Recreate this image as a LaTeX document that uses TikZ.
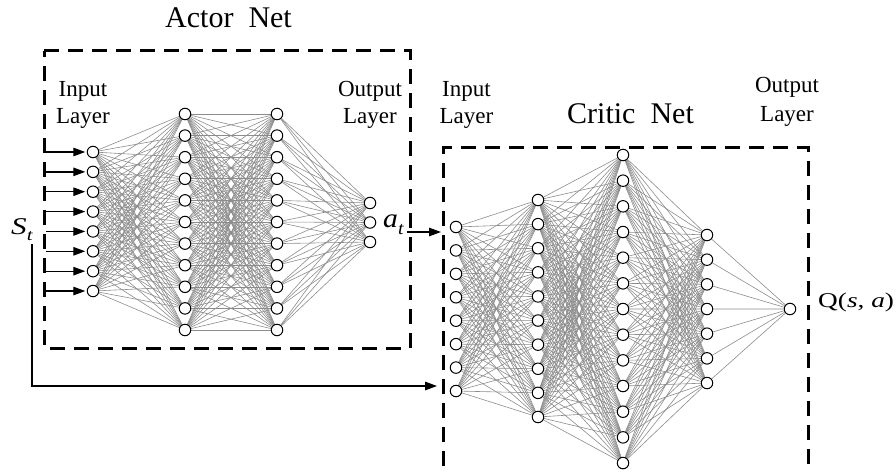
\documentclass[tikz,border=0pt]{standalone}
\usepackage{fontspec}
\usepackage{graphicx}
\setmainfont{Liberation Serif}
\usetikzlibrary{arrows.meta}
\pgfdeclarelayer{bg}
\pgfsetlayers{bg,main}

% one column of neurons: prefix, x, count, top y, spacing
\newcommand{\nnlayer}[5]{%
  \foreach \j in {1,...,#3} \node[neuron] (#1-\j) at (#2,{#4+(\j-1)*#5}) {};}
% full connection between two columns, drawn behind the neurons
\newcommand{\nnlink}[4]{%
  \begin{pgfonlayer}{bg}
    \foreach \j in {1,...,#2} \foreach \k in {1,...,#4} \draw[edge] (#1-\j) -- (#3-\k);
  \end{pgfonlayer}}
% italic symbol with a lowered italic index
\newcommand{\symidx}[3]{\textit{#1}\raisebox{-0.28em}{\fontsize{#3}{#3}\selectfont\textit{#2}}}

\begin{document}
\begin{tikzpicture}[x=1pt,y=-1pt,
  neuron/.style={circle,draw=black,fill=white,line width=1pt,minimum size=11.5pt,inner sep=0pt},
  edge/.style={draw=black!45,line width=0.6pt},
  frame/.style={line width=3pt,dash pattern=on 15pt off 9pt},
  flow/.style={line width=1.3pt,-{Triangle[length=12pt,width=8.5pt]}},
  lbl/.style={inner sep=0pt,anchor=base},
  small/.style={lbl,font=\fontsize{23}{27}\selectfont},
  title/.style={lbl,font=\fontsize{30}{34}\selectfont},
  sym/.style={inner sep=0pt,anchor=base west}]
\useasboundingbox (0,0) rectangle (896,473);
\clip (0,0) rectangle (896,473);

% ---- actor network ----
\nnlayer{a0}{93}{8}{152}{19.86}
\nnlayer{a1}{185}{11}{114}{21.6}
\nnlayer{a2}{277}{11}{114}{21.6}
\nnlayer{a3}{370}{3}{203}{19.5}
\nnlink{a0}{8}{a1}{11}
\nnlink{a1}{11}{a2}{11}
\nnlink{a2}{11}{a3}{3}

% ---- critic network ----
\nnlayer{c0}{456}{8}{227}{23.43}
\nnlayer{c1}{538}{10}{200}{24.11}
\nnlayer{c2}{623}{13}{155}{25.67}
\nnlayer{c3}{707}{7}{235}{24.67}
\nnlayer{c4}{790}{1}{309}{0}
\nnlink{c0}{8}{c1}{10}
\nnlink{c1}{10}{c2}{13}
\nnlink{c2}{13}{c3}{7}
\nnlink{c3}{7}{c4}{1}

% ---- dashed frames ----
\draw[frame] (44,51) -- (410,51) -- (410,348) -- (44,348) -- cycle;
\draw[frame] (443,490) -- (443,148) -- (808,148) -- (808,490);

% ---- titles and layer captions ----
\node[title] (actor) at (228.5,28) {Actor\ \ Net};
\node[title] (critic) at (630.5,124) {Critic\ \ Net};
\node[small] (ain1) at (83,97) {Input};
\node[small] (ain2) at (83,124) {Layer};
\node[small] (aout1) at (370,97) {Output};
\node[small] (aout2) at (370,124) {Layer};
\node[small] (cin1) at (466.5,97) {Input};
\node[small] (cin2) at (466.5,124) {Layer};
\node[small] (cout1) at (787,93) {Output};
\node[small] (cout2) at (787,122) {Layer};

% ---- signals ----
\node[sym] (st) at (11,234)
  {\scalebox{1.3}[1]{\fontsize{24}{26}\selectfont\symidx{S}{t}{16}}};
\node[sym] (at) at (383,227)
  {\scalebox{1.1}[1]{\fontsize{27}{30}\selectfont\symidx{a}{t}{18}}};
\node[sym] (q) at (818,307)
  {\scalebox{1.3}[1]{\fontsize{21}{24}\selectfont Q(\textit{s}, \textit{a})}};

\foreach \j in {1,...,8} {
  \coordinate (s-\j) at (46,{152+(\j-1)*19.86});
  \draw[flow,shorten >=1.5pt] (s-\j) -- (a0-\j);
}

\coordinate (actin) at (441,232);
\draw[flow,shorten <=3pt] (at.east |- actin) -- (actin);

\coordinate (bend) at (32,386);
\coordinate (stin) at (437,386);
\draw[flow,shorten <=3pt] (st.south -| bend) -- (bend) -- (stin);
\end{tikzpicture}
\end{document}
